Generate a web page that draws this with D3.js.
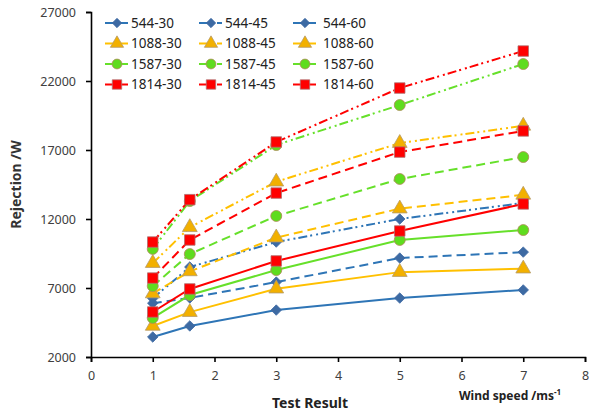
<!DOCTYPE html>
<html>
<head>
<meta charset="utf-8">
<script src="https://cdn.jsdelivr.net/npm/d3@7"></script>
<style>
  body { margin: 0; background: #fff; }
  svg text { font-family: "Noto Sans", "Open Sans", sans-serif; }
</style>
</head>
<body>
<div id="chart"></div>
<script>
// wind speeds (x)
var windSpeed = [1, 1.6, 3, 5, 7];

// series names as in the legend
var seriesNames = ["544-30", "544-45", "544-60",
    "1088-30", "1088-45", "1088-60",
    "1587-30", "1587-45", "1587-60",
    "1814-30", "1814-45", "1814-60"];

// rejection values /W
var r544_30 = [3450, 4250, 5400, 6270, 6860];
var r544_45 = [5900, 6280, 7430, 9170, 9600];
var r544_60 = [6250, 8520, 10330, 12000, 13160];
var r1088_30 = [4250, 5250, 6950, 8150, 8400];
var r1088_45 = [6600, 8200, 10650, 12750, 13750];
var r1088_60 = [8800, 11400, 14700, 17500, 18750];
var r1587_30 = [4830, 6490, 8300, 10480, 11200];
var r1587_45 = [7140, 9460, 12220, 14900, 16490];
var r1587_60 = [9830, 13300, 17360, 20260, 23230];
var r1814_30 = [5260, 6930, 8960, 11130, 13090];
var r1814_45 = [7720, 10480, 13880, 16850, 18380];
var r1814_60 = [10330, 13400, 17580, 21490, 24170];

var yTicks = [2000, 7000, 12000, 17000, 22000, 27000];
var xTicks = [0, 1, 2, 3, 4, 5, 6, 7, 8];

var allValues = [r544_30, r544_45, r544_60, r1088_30, r1088_45, r1088_60,
    r1587_30, r1587_45, r1587_60, r1814_30, r1814_45, r1814_60];

var lineColors = ["#2e75b6", "#ffc000", "#66e02a", "#ff0000"];
var fillColors = ["#3d6aa3", "#f2b000", "#5fdc1e", "#ff0000"];
var strokeColors = ["#3d6aa3", "#b59a6a", "#b08a5a", "#b07070"];
var dashes = [null, "9,5", "9,3,2,4,2,3"];
var shapes = [d3.symbolDiamond2, d3.symbolTriangle, d3.symbolCircle, d3.symbolSquare];
var shapeSizes = [70, 95, 95, 110];

var data = seriesNames.map(function (name, i) {
    var g = Math.floor(i / 3), s = i % 3;
    return {
        name: name, group: g, style: s,
        points: windSpeed.map(function (w, j) { return {x: w, y: allValues[i][j]}; })
    };
});

var width = 590, height = 415;

var svg = d3.select("#chart").append("svg")
    .attr("width", width)
    .attr("height", height);

var x = d3.scaleLinear().domain([0, 8]).range([91, 585]);
var y = d3.scaleLinear().domain([2000, 27000]).range([357, 12]);

// axes
svg.append("g")
    .attr("transform", "translate(0," + y(2000) + ")")
    .call(d3.axisBottom(x).tickValues(xTicks).tickSize(5).tickPadding(9))
    .call(function (g) {
        g.select(".domain").attr("stroke", "#000").attr("stroke-width", 1.6);
        g.selectAll(".tick line").attr("stroke", "#000").attr("stroke-width", 1.6);
        g.selectAll("text").attr("font-size", 12.5).attr("fill", "#404040");
    });

svg.append("g")
    .attr("transform", "translate(" + x(0) + ",0)")
    .call(d3.axisLeft(y).tickValues(yTicks).tickSize(5).tickPadding(10).tickFormat(d3.format("d")))
    .call(function (g) {
        g.select(".domain").attr("stroke", "#000").attr("stroke-width", 1.6);
        g.selectAll(".tick line").attr("stroke", "#000").attr("stroke-width", 1.6);
        g.selectAll("text").attr("font-size", 12.5).attr("fill", "#404040");
    });

var line = d3.line()
    .x(function (d) { return x(d.x); })
    .y(function (d) { return y(d.y); });

var series = svg.selectAll(".series")
    .data(data)
    .enter().append("g")
    .attr("class", "series");

series.append("path")
    .attr("d", function (d) { return line(d.points); })
    .attr("fill", "none")
    .attr("stroke", function (d) { return lineColors[d.group]; })
    .attr("stroke-width", 2)
    .attr("stroke-dasharray", function (d) { return dashes[d.style]; });

series.selectAll(".mark")
    .data(function (d) {
        return d.points.map(function (p) { return {p: p, g: d.group}; });
    })
    .enter().append("path")
    .attr("class", "mark")
    .attr("transform", function (d) { return "translate(" + x(d.p.x) + "," + y(d.p.y) + ")"; })
    .attr("d", function (d) { return d3.symbol().type(shapes[d.g]).size(shapeSizes[d.g])(); })
    .attr("fill", function (d) { return fillColors[d.g]; })
    .attr("stroke", function (d) { return strokeColors[d.g]; })
    .attr("stroke-width", 0.8);

// legend
var legend = svg.selectAll(".legend")
    .data(data)
    .enter().append("g")
    .attr("class", "legend")
    .attr("transform", function (d) {
        return "translate(" + (105 + d.style * 94) + "," + (23 + d.group * 20.5) + ")";
    });

legend.append("line")
    .attr("x1", 0).attr("x2", 23)
    .attr("stroke", function (d) { return lineColors[d.group]; })
    .attr("stroke-width", 2)
    .attr("stroke-dasharray", function (d) { return d.style === 1 ? "9,4,2,3" : null; });

legend.append("path")
    .attr("transform", "translate(12,0)")
    .attr("d", function (d) { return d3.symbol().type(shapes[d.group]).size(shapeSizes[d.group] * 0.8)(); })
    .attr("fill", function (d) { return fillColors[d.group]; })
    .attr("stroke", function (d) { return strokeColors[d.group]; })
    .attr("stroke-width", 0.8);

legend.append("text")
    .attr("x", function (d) { return d.style === 2 ? 30 : 26; })
    .attr("dy", "0.36em")
    .attr("font-size", 13.5)
    .attr("fill", "#222")
    .text(function (d) { return d.name; });

// axis titles
svg.append("text")
    .attr("transform", "translate(21," + y(14500) + ") rotate(-90)")
    .attr("text-anchor", "middle")
    .attr("font-weight", "bold")
    .attr("font-size", 14)
    .attr("fill", "#333")
    .text("Rejection /W");

svg.append("text")
    .attr("x", 310)
    .attr("y", 408)
    .attr("text-anchor", "middle")
    .attr("font-weight", "bold")
    .attr("font-size", 14)
    .attr("fill", "#222")
    .text("Test Result");

var ws = svg.append("text")
    .attr("x", 459)
    .attr("y", 400)
    .attr("font-weight", "bold")
    .attr("font-size", 12)
    .attr("fill", "#222")
    .text("Wind speed  /ms");
ws.append("tspan")
    .attr("font-size", 8)
    .attr("dy", -5)
    .text("-1");
</script>
</body>
</html>
